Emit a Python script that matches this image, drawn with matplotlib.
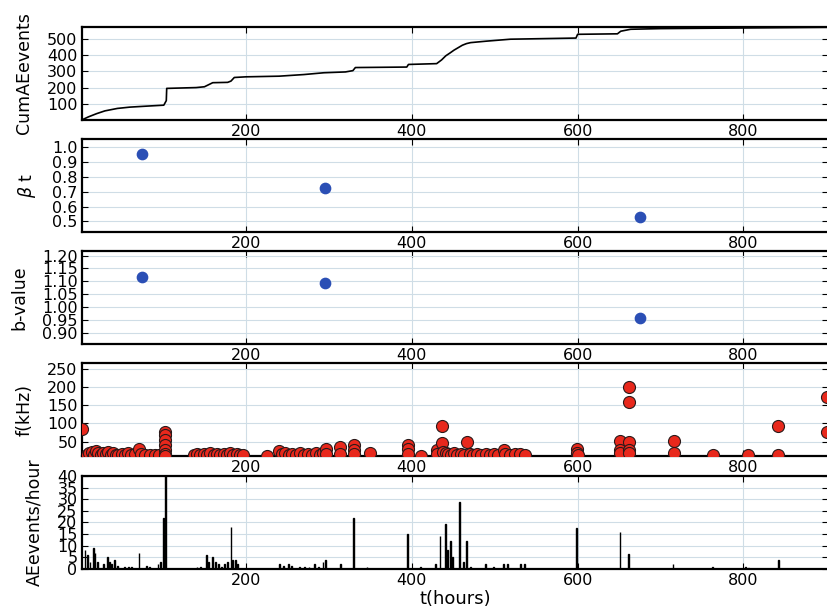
import matplotlib
matplotlib.use("Agg")
import matplotlib.pyplot as plt

# cumulative AE events
cum_t = [2, 10, 20, 30, 45, 60, 80, 101, 104, 104.5, 140, 150, 160, 178, 182,
         186, 200, 240, 270, 294, 320, 329, 332, 394, 396, 430, 436, 441, 446,
         451, 456, 461, 466, 471, 490, 519, 598, 600, 648, 652, 658, 664, 700,
         800, 902]
cum_n = [1, 20, 40, 57, 72, 80, 86, 92, 120, 195, 200, 205, 230, 232, 240,
         262, 266, 270, 280, 291, 296, 304, 323, 326, 342, 347, 370, 395, 412,
         430, 445, 460, 470, 476, 485, 497, 504, 527, 530, 546, 552, 558, 562,
         566, 570]

# beta t and b-value estimates
win_t = [75, 295, 675]
beta_t = [0.956, 0.727, 0.529]
b_value = [1.118, 1.095, 0.957]

# frequency of AE events
f_t = [2, 8, 11, 14, 17, 19, 22, 25, 28, 31, 34, 37, 40, 43, 46, 50, 54, 58,
       62, 66, 71, 74, 78, 84, 90, 95,
       103, 103, 103, 103, 103, 103, 103,
       137, 141, 145, 149, 153, 157, 161, 165, 169, 173, 177, 181, 185, 189,
       193, 197,
       225, 240, 243, 247, 252, 256, 261, 265, 270, 275, 280, 284, 289, 293,
       296, 296, 314, 314, 330, 330, 330, 350,
       395, 395, 395, 411, 431, 431, 436, 436, 438, 441, 444, 447, 451, 455,
       459, 463, 467, 470, 474, 479, 484, 489, 494, 499, 504, 511, 513, 518,
       525, 531, 536,
       599, 599, 601, 651, 651, 651, 662, 662, 662, 662, 662, 716, 716, 763,
       806, 842, 842, 901, 901]
f_khz = [85, 14, 18, 22, 15, 25, 18, 14, 20, 16, 22, 14, 18, 15, 13, 16, 14, 18,
         14, 16, 29, 17, 14, 13, 15, 13,
         77, 68, 55, 41, 27, 17, 12,
         14, 17, 13, 16, 14, 18, 13, 16, 14, 17, 13, 18, 14, 16,
         13, 15,
         12, 24, 16, 19, 14, 17, 13, 18, 14, 16, 13, 19, 15, 18,
         29, 17, 35, 17, 41, 27, 16, 20,
         41, 30, 16, 12, 27, 16, 93, 47, 22, 20, 16, 14, 18, 13,
         16, 14, 50, 16, 13, 17, 14, 16, 13, 17, 14, 27, 16, 13,
         16, 17, 13,
         30, 19, 14, 52, 27, 19, 200, 159, 50, 27, 19, 52, 19, 13,
         13, 93, 13, 172, 77]

# AE events per hour
hour_t = [6, 9, 12, 16, 18, 21, 28, 33, 36, 38, 42, 45, 54, 58, 62, 71, 80, 84,
          94, 97, 101, 103, 141, 145, 152, 155, 160, 163, 167, 171, 174, 178,
          182, 184, 187, 190, 223, 241, 245, 251, 255, 265, 271, 276, 283, 288,
          293, 296, 314, 330, 346, 395, 411, 429, 434, 441, 443, 447, 449, 458,
          462, 466, 471, 489, 499, 511, 515, 531, 536, 599, 651, 661, 715, 763,
          802, 806, 842]
events = [8, 6, 3, 9, 7, 3, 2, 5, 3, 2, 4, 1.5, 1, 1, 1, 7, 1.5, 1,
          2, 3, 22, 40, 1, 1, 6, 3, 5, 3, 2, 1, 2, 3,
          18, 4, 4, 2, 0.5, 2, 1.5, 2, 1.5, 1, 1, 1, 2, 1,
          3, 4, 2, 22, 1, 15, 1, 2, 14, 19.5, 8, 12, 5, 29,
          3, 12, 1, 2, 1, 2, 2, 2, 2, 17.5, 16, 6.5, 2, 1,
          1, 0.5, 4]

XLIM = (2, 902)
GRID = "#cfdde6"
LABEL_SIZE = 12.5

fig = plt.figure(figsize=(8.27, 6.16), dpi=100)
left, width, height = 0.0988, 0.9025, 0.151
bottoms = [0.8052, 0.6234, 0.4416, 0.2597, 0.0763]
axes = [fig.add_axes([left, b, width, height]) for b in bottoms]

for ax in axes:
    ax.set_xlim(*XLIM)
    ax.set_xticks([200, 400, 600, 800])
    ax.tick_params(direction="in", top=True, right=True, length=4,
                   labelsize=11.5, pad=3)
    ax.grid(True, color=GRID, linewidth=0.8)
    ax.set_axisbelow(True)
    for s in ax.spines.values():
        s.set_linewidth(1.6)

ax1, ax2, ax3, ax4, ax5 = axes

ax1.plot(cum_t, cum_n, color="black", linewidth=1.2)
ax1.set_ylim(min(cum_n), max(cum_n) + 2)
ax1.set_yticks([100, 200, 300, 400, 500])
ax1.set_ylabel("CumAEevents", fontsize=LABEL_SIZE, labelpad=10)

ax2.scatter(win_t, beta_t, s=55, color="#2b4fb5", zorder=3)
ax2.set_ylim(min(beta_t) - 0.1, max(beta_t) + 0.1)
ax2.set_yticks([0.5, 0.6, 0.7, 0.8, 0.9, 1.0])
ax2.set_ylabel(r"$\beta$ t", fontsize=LABEL_SIZE, labelpad=10)

ax3.scatter(win_t, b_value, s=55, color="#2b4fb5", zorder=3)
ax3.set_ylim(min(b_value) - 0.1, max(b_value) + 0.1)
ax3.set_yticks([0.90, 0.95, 1.00, 1.05, 1.10, 1.15, 1.20])
ax3.set_yticklabels(["0.90", "0.95", "1.00", "1.05", "1.10", "1.15", "1.20"])
ax3.set_ylabel("b-value", fontsize=LABEL_SIZE, labelpad=10)

ax4.scatter(f_t, f_khz, s=75, color="#e8281c", edgecolors="#2a1a1a",
            linewidths=0.8, zorder=3)
ax4.set_ylim(11, 265)
ax4.set_yticks([50, 100, 150, 200, 250])
ax4.set_ylabel("f(kHz)", fontsize=LABEL_SIZE, labelpad=10)

ax5.bar(hour_t, events, width=1.0, color="black", edgecolor="black",
        linewidth=1.0, zorder=3)
ax5.set_ylim(0, 40)
ax5.set_yticks(range(0, 45, 5))
ax5.set_ylabel("AEevents/hour", fontsize=LABEL_SIZE, labelpad=10)
ax5.set_xlabel("t(hours)", fontsize=13, labelpad=1)

fig.savefig("out.png", dpi=100)
